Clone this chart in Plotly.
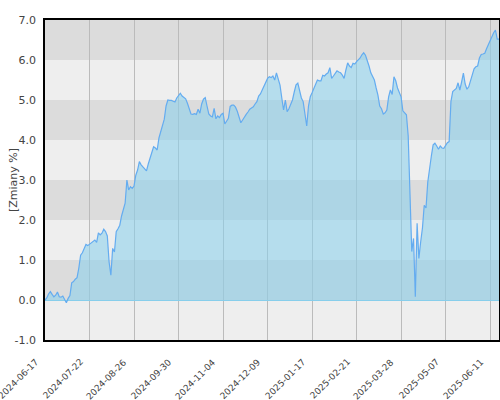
import plotly.graph_objects as go

values = [
    0.00, 0.05, 0.15, 0.21, 0.14, 0.08, 0.12, 0.20, 0.08, 0.07,
    0.10, 0.02, -0.07, 0.04, 0.11, 0.43, 0.46, 0.52, 0.56, 0.80,
    1.12, 1.18, 1.30, 1.39, 1.36, 1.40, 1.42, 1.46, 1.50, 1.44,
    1.68, 1.63, 1.67, 1.77, 1.71, 1.60, 0.95, 0.62, 1.29, 1.20,
    1.71, 1.78, 1.87, 2.10, 2.30, 2.42, 3.00, 2.75, 2.83, 2.79,
    2.85, 3.12, 3.25, 3.46, 3.38, 3.33, 3.30, 3.23, 3.40, 3.55,
    3.70, 3.83, 3.80, 3.75, 4.05, 4.22, 4.38, 4.52, 4.85, 5.00,
    4.99, 4.99, 4.97, 4.95, 5.05, 5.12, 5.17, 5.10, 5.07, 5.03,
    4.92, 4.78, 4.65, 4.64, 4.66, 4.64, 4.77, 4.67, 4.90, 5.02,
    5.06, 4.85, 4.65, 4.60, 4.58, 4.79, 4.53, 4.60, 4.56, 4.64,
    4.67, 4.40, 4.47, 4.54, 4.84, 4.87, 4.87, 4.82, 4.72, 4.60,
    4.43, 4.50, 4.58, 4.64, 4.70, 4.77, 4.80, 4.83, 4.90, 4.96,
    5.10, 5.15, 5.25, 5.35, 5.45, 5.54, 5.58, 5.56, 5.60, 5.50,
    5.68, 5.55, 5.37, 5.05, 4.75, 5.00, 4.71, 4.78, 4.87, 5.00,
    5.20, 5.38, 5.42, 5.25, 5.05, 4.96, 4.70, 4.35, 4.85, 5.08,
    5.18, 5.29, 5.40, 5.50, 5.48, 5.48, 5.62, 5.60, 5.65, 5.68,
    5.81, 5.54, 5.60, 5.68, 5.73, 5.70, 5.68, 5.62, 5.54, 5.75,
    5.93, 5.85, 5.81, 5.92, 5.90, 5.96, 6.00, 6.05, 6.13, 6.18,
    6.12, 6.00, 5.85, 5.68, 5.60, 5.50, 5.30, 5.12, 4.85, 4.78,
    4.65, 4.68, 4.75, 5.08, 5.25, 5.14, 5.58, 5.48, 5.30, 5.21,
    5.08, 4.73, 4.68, 4.63, 4.10, 2.42, 1.21, 1.54, 0.08, 1.92,
    1.04, 1.45, 1.80, 2.37, 2.30, 2.95, 3.35, 3.60, 3.88, 3.92,
    3.85, 3.77, 3.85, 3.80, 3.79, 3.88, 3.93, 3.96, 4.96, 5.21,
    5.24, 5.29, 5.43, 5.25, 5.45, 5.67, 5.40, 5.27, 5.33, 5.50,
    5.62, 5.78, 5.83, 5.85, 6.05, 6.14, 6.15, 6.17, 6.28, 6.38,
    6.50, 6.58, 6.68, 6.75, 6.52, 6.52,
]

tick_labels = ["2024-06-17", "2024-07-22", "2024-08-26", "2024-09-30",
               "2024-11-04", "2024-12-09", "2025-01-17", "2025-02-21",
               "2025-03-28", "2025-05-07", "2025-06-11"]
tick_step = 25
y_ticks = [-1.0, 0.0, 1.0, 2.0, 3.0, 4.0, 5.0, 6.0, 7.0]
y_title = "[Zmiany %]"

x = list(range(len(values)))
tick_pos = [i * tick_step for i in range(len(tick_labels))]

fig = go.Figure()
fig.add_trace(go.Scatter(
    x=x, y=values, mode="lines", fill="tozeroy",
    line=dict(color="rgb(100,172,240)", width=1.2),
    fillcolor="rgba(140,208,236,0.58)",
    hoverinfo="skip", showlegend=False,
))

shapes = []
for k in range(len(y_ticks) - 1):
    lo, hi = y_ticks[k], y_ticks[k + 1]
    dark = (int(hi) % 2 == 1)
    shapes.append(dict(type="rect", xref="paper", yref="y", x0=0, x1=1,
                       y0=lo, y1=hi, line=dict(width=0),
                       fillcolor="#dcdcdc" if dark else "#eeeeee",
                       layer="below"))

annotations = [dict(text=y_title, textangle=-90, xref="paper", yref="paper",
                    x=-0.0705, y=0.5, xanchor="center", yanchor="middle",
                    showarrow=False, font=dict(size=11, color="#444444"))]
for pos, lab in zip(tick_pos, tick_labels):
    annotations.append(dict(text=lab, textangle=-45, xref="x", yref="paper",
                            x=pos, y=0, xanchor="right", yanchor="top",
                            xshift=-2, yshift=-14, showarrow=False,
                            font=dict(size=9, color="#444444")))

fig.update_layout(
    width=500, height=400,
    margin=dict(l=45, r=1, t=20, b=60, autoexpand=False),
    paper_bgcolor="white", plot_bgcolor="#eeeeee",
    shapes=shapes, annotations=annotations,
    font=dict(family="DejaVu Sans", size=11, color="#444444"),
)
fig.update_xaxes(
    range=[0, len(values) - 1], tickmode="array",
    tickvals=tick_pos, ticktext=tick_labels, showticklabels=False,
    automargin=False,
    showgrid=True, gridcolor="#bbbbbb", gridwidth=1,
    showline=True, linecolor="black", linewidth=1.5, mirror=True,
    ticks="", zeroline=False,
)
fig.update_yaxes(
    range=[-1, 7], tickmode="array", tickvals=y_ticks,
    ticktext=[f"{v:.1f}" for v in y_ticks],
    tickfont=dict(size=11, color="#444444"), automargin=False,
    ticklabelstandoff=5,
    showgrid=False, zeroline=True, zerolinecolor="#87ceeb", zerolinewidth=1,
    showline=True, linecolor="black", linewidth=1.5, mirror=True,
    ticks="",
)

fig.write_html("out.html", config={"displayModeBar": False},
               post_script="document.body.style.margin='0px';document.body.style.overflow='hidden';")
